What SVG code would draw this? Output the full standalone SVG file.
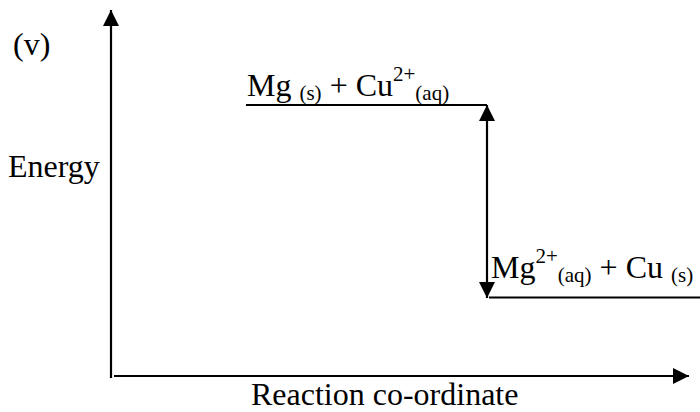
<svg xmlns="http://www.w3.org/2000/svg" width="700" height="412" viewBox="0 0 700 412">
<style>
text{font-family:"Liberation Serif","Times New Roman",serif;fill:#000;font-size:32px}
.s{font-size:21px}
.ax{stroke:#000;stroke-width:2.2;fill:none}
.lv{stroke:#000;stroke-width:2;fill:none}
</style>
<defs>
<marker id="ah" viewBox="0 0 16 16" refX="16" refY="8" markerWidth="16" markerHeight="16" markerUnits="userSpaceOnUse" orient="auto-start-reverse">
<path d="M0,0 L16,8 L0,16 Z" fill="#000"/>
</marker>
</defs>
<rect width="700" height="412" fill="#fff"/>
<g id="connectors">
<line class="ax" x1="111" y1="378" x2="111" y2="10" marker-end="url(#ah)"/>
<line class="ax" x1="114" y1="376" x2="689" y2="376" marker-end="url(#ah)"/>
<line class="ax" x1="487" y1="105" x2="487" y2="298" marker-start="url(#ah)" marker-end="url(#ah)"/>
</g>
<g id="reactants">
<line class="lv" x1="246" y1="105" x2="487" y2="105"/>
<text x="247" y="96">Mg <tspan class="s" dy="4">(s)</tspan><tspan dy="-4"> + Cu</tspan><tspan class="s" dy="-15">2+</tspan><tspan class="s" dy="19">(aq)</tspan></text>
</g>
<g id="products">
<line class="lv" x1="489" y1="297.5" x2="700" y2="297.5"/>
<text x="491" y="278">Mg<tspan class="s" dy="-15">2+</tspan><tspan class="s" dy="19">(aq)</tspan><tspan dy="-4"> + Cu </tspan><tspan class="s" dy="4">(s)</tspan></text>
</g>
<g id="labels">
<text x="13" y="55">(v)</text>
<text x="8" y="177">Energy</text>
<text x="251" y="405">Reaction co-ordinate</text>
</g>
</svg>
